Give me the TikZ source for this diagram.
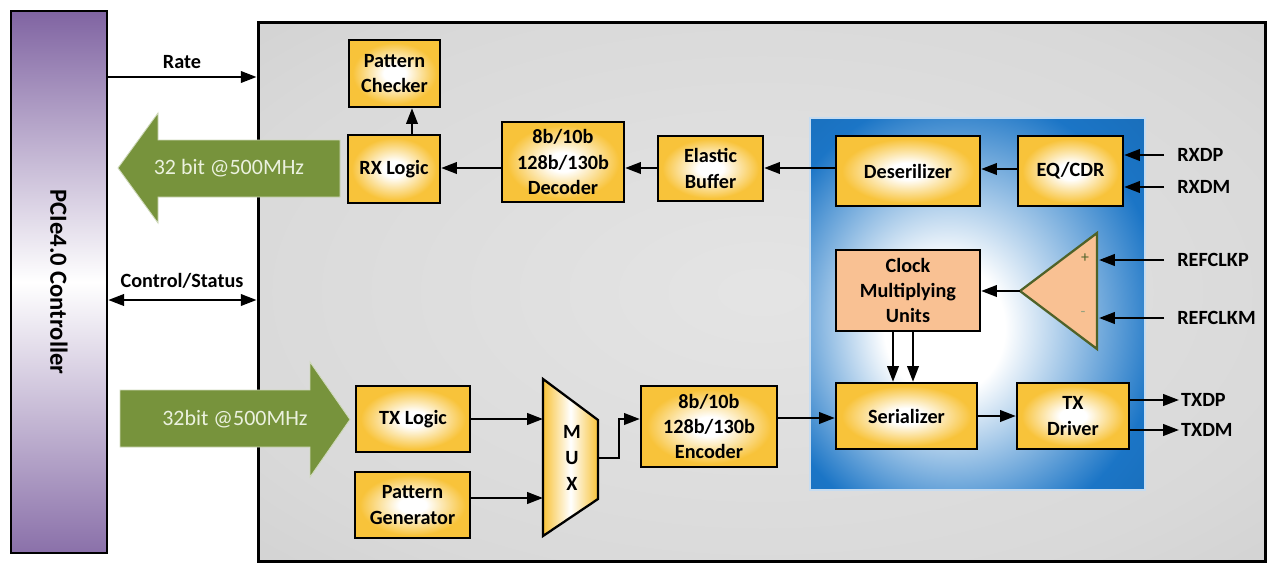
\documentclass[tikz,border=0pt]{standalone}
\usepackage{fontspec}
\setmainfont{Carlito}
\usetikzlibrary{arrows.meta,positioning,calc}
\definecolor{Gold}{HTML}{F8C33A}
\definecolor{Peach}{HTML}{F9C193}
\definecolor{Olive}{HTML}{4F6228}
\definecolor{Leaf}{HTML}{77933C}
\definecolor{LeafText}{HTML}{EBF1DE}
\definecolor{Violet}{HTML}{8064A2}
\definecolor{Sky}{HTML}{1B75C6}
\definecolor{Panel}{HTML}{D9D9D9}
\definecolor{PanelDark}{HTML}{C8C8C8}
\pgfdeclareradialshading{boxglow}{\pgfpoint{0bp}{0bp}}{color(0bp)=(white); color(6bp)=(white); color(23bp)=(Gold); color(50bp)=(Gold)}
\pgfdeclareradialshading{coreglow}{\pgfpoint{-6bp}{-4bp}}{color(0bp)=(white); color(9bp)=(white); color(30bp)=(Sky); color(50bp)=(Sky!85!black)}
\pgfdeclareradialshading{panelglow}{\pgfpoint{0bp}{0bp}}{color(0bp)=(Panel!70!white); color(28bp)=(Panel); color(50bp)=(PanelDark)}
\tikzset{
  blockbox/.style={draw=black,line width=1.3pt,shade,shading=boxglow,align=center,font=\fontsize{11.5}{14.5}\selectfont\bfseries,inner sep=2pt},
  clockbox/.style={draw=black,line width=1.3pt,fill=Peach,align=center,font=\fontsize{11.5}{14.5}\selectfont\bfseries,inner sep=2pt},
  line/.style={-{Triangle[length=9pt,width=6.5pt]},line width=1.4pt},
  twoway/.style={{Triangle[length=9pt,width=6.5pt]}-{Triangle[length=9pt,width=6.5pt]},line width=1.4pt},
  textlabel/.style={font=\fontsize{11.5}{14}\selectfont\bfseries,inner sep=1pt},
  inlabel/.style={textlabel,anchor=west,inner xsep=7.4pt},
  outlabel/.style={textlabel,anchor=west},
  busarrow/.style={fill=Leaf,draw=Leaf!35!white,line width=0.5pt},
  buslabel/.style={font=\fontsize{12.5}{14}\selectfont,text=LeafText}
}

\begin{document}
\begin{tikzpicture}[x=0.02cm,y=-0.02cm]
  \useasboundingbox (0,0) rectangle (1282,575);
  \node[draw,line width=1.4pt,top color=Violet,bottom color=Violet!92,middle color=white,minimum width=1.92cm,minimum height=10.84cm] (ctrl) at (59,282) {};
  \node[rotate=-90,font=\fontsize{14}{16}\selectfont\bfseries] (ctrllabel) at (ctrl.center) {PCIe4.0 Controller};
  \node[draw,line width=1.7pt,shade,shading=panelglow,minimum width=20.16cm,minimum height=10.8cm] (phy) at (762,292) {};
  \node[draw=white!75!Sky,line width=1pt,shade,shading=coreglow,minimum width=6.7cm,minimum height=7.44cm] (core) at (977.5,304) {};

  \node[blockbox,minimum width=1.82cm,minimum height=1.34cm] (checker) at (394.5,73.5) {Pattern\\Checker};
  \node[blockbox,minimum width=1.84cm,minimum height=1.36cm] (rxlogic) at (394,169) {RX Logic};
  \node[blockbox,minimum width=2.44cm,minimum height=1.6cm] (decoder) at (563,162) {8b/10b\\128b/130b\\Decoder};
  \node[blockbox,minimum width=2.1cm,minimum height=1.3cm] (elastic) at (710.5,168.5) {Elastic\\Buffer};
  \node[blockbox,minimum width=2.88cm,minimum height=1.4cm] (deser) at (908,171) {Deserilizer};
  \node[blockbox,minimum width=2.1cm,minimum height=1.4cm] (eqcdr) at (1070.5,171) {EQ/CDR};
  \node[clockbox,minimum width=2.88cm,minimum height=1.62cm] (cmu) at (908,290.5) {Clock\\Multiplying\\Units};
  \node[blockbox,minimum width=2.82cm,minimum height=1.32cm] (ser) at (906.5,416) {Serializer};
  \node[blockbox,minimum width=2.24cm,minimum height=1.32cm] (txdrv) at (1073,416) {TX\\Driver};
  \node[blockbox,minimum width=2.72cm,minimum height=1.62cm] (encoder) at (709,426.5) {8b/10b\\128b/130b\\Encoder};
  \node[blockbox,minimum width=2.28cm,minimum height=1.32cm] (txlogic) at (413,419) {TX Logic};
  \node[blockbox,minimum width=2.3cm,minimum height=1.32cm] (patgen) at (412.5,505) {Pattern\\Generator};

  \shadedraw[draw=black,line width=1.3pt,left color=Gold,right color=Gold,middle color=white] (543,379) -- (598,420) -- (598,499) -- (543,536) -- cycle;
  \coordinate (muxin1) at (543,419);
  \coordinate (muxin2) at (543,498);
  \coordinate (muxout) at (598,458);
  \node[textlabel,align=center,font=\fontsize{11.5}{14.7}\selectfont\bfseries] (muxlbl) at (572,458) {M\\U\\X};

  \filldraw[fill=Peach,draw=Olive,line width=1.3pt] (1097,233) -- (1020,291) coordinate (cmpout) -- (1097,349) -- cycle;
  \coordinate (cmpp) at (1099,260);
  \coordinate (cmpm) at (1099,318);
  \node[font=\small,text=Olive] (plus) at (1085,258) {+};
  \node[font=\small,text=Olive!60] (minus) at (1083,314) {-};

  \fill[busarrow] (340,140) -- (158,140) -- (158,113) -- (118,168) -- (158,223) -- (158,197) -- (340,197) -- cycle;
  \node[buslabel] (rxbus) at (229,168) {32 bit @500MHz};
  \fill[busarrow] (120,390) -- (310,390) -- (310,362) -- (350,419.5) -- (310,477) -- (310,447) -- (120,447) -- cycle;
  \node[buslabel] (txbus) at (235,419) {32bit @500MHz};

  \node[textlabel] (ratelbl) at (182,62) {Rate};
  \node[textlabel] (statlbl) at (182,281) {Control/Status};
  \draw[line] (ctrl.east |- 0,77) -- (phy.west |- 0,77);
  \draw[twoway] (ctrl.east |- 0,300) -- (phy.west |- 0,300);

  \draw[line] (rxlogic.north -| 412,0) -- (checker.south -| 412,0);
  \draw[line] (decoder.west |- 0,168) -- (rxlogic.east |- 0,168);
  \draw[line] (elastic.west |- 0,168) -- (decoder.east |- 0,168);
  \draw[line] (deser.west |- 0,168) -- (elastic.east |- 0,168);
  \draw[line] (eqcdr.west |- 0,169) -- (deser.east |- 0,169);

  \node[inlabel] (rxdp) at (1164,155) {RXDP};
  \node[inlabel] (rxdm) at (1164,187) {RXDM};
  \draw[line] (rxdp.west) -- (eqcdr.east |- rxdp);
  \draw[line] (rxdm.west) -- (eqcdr.east |- rxdm);
  \node[inlabel] (refp) at (1164,260) {REFCLKP};
  \node[inlabel] (refm) at (1164,318) {REFCLKM};
  \draw[line] (refp.west) -- (cmpp);
  \draw[line] (refm.west) -- (cmpm);
  \draw[line] (cmpout) -- (cmu.east |- cmpout);

  \draw[line] (cmu.south -| 893,0) -- (ser.north -| 893,0);
  \draw[line] (cmu.south -| 913,0) -- (ser.north -| 913,0);
  \draw[line] (ser.east) -- (txdrv.west |- ser.east);
  \node[outlabel] (txdp) at (1179,400) {TXDP};
  \node[outlabel] (txdm) at (1179,430) {TXDM};
  \draw[line] (txdrv.east |- txdp) -- (txdp.west);
  \draw[line] (txdrv.east |- txdm) -- (txdm.west);

  \draw[line] (encoder.east |- 0,418) -- (ser.west |- 0,418);
  \draw[line] (muxout) -- ++(21,0) |- (encoder.west |- 0,419);
  \draw[line] (txlogic.east |- muxin1) -- (muxin1);
  \draw[line] (patgen.east |- muxin2) -- (muxin2);
\end{tikzpicture}
\end{document}
